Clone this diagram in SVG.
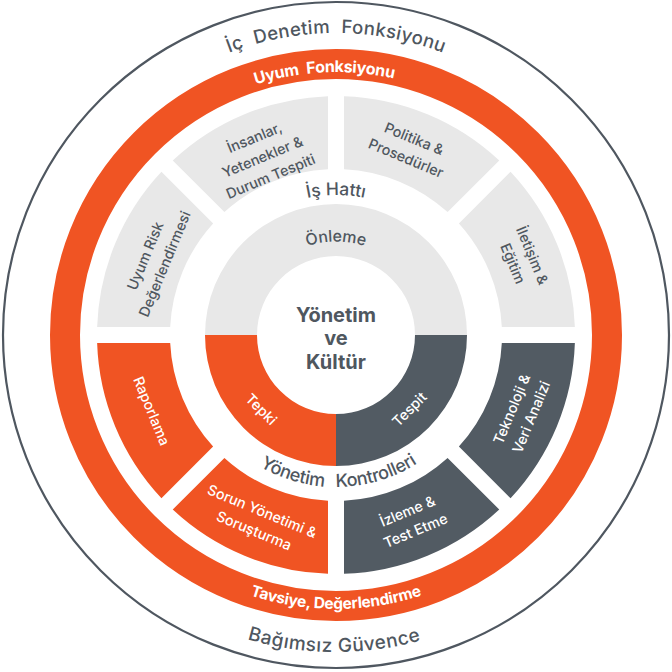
<svg xmlns="http://www.w3.org/2000/svg" xmlns:xlink="http://www.w3.org/1999/xlink" width="672" height="672" viewBox="0 0 672 672">
  <style>
    text { font-family: Inter, "Noto Sans", "Liberation Sans", sans-serif; }
    .g { fill: #e8e8e8; }
    .o { fill: #f05423; }
    .d { fill: #525b63; }
    .lbl { font-size: 14.3px; font-weight: 500; text-anchor: middle; }
    .tg { fill: #4f575f; }
    .tw { fill: #ffffff; }
    .arc { text-anchor: middle; }
  </style>
  <defs>
    <path id="pOuterTop" d="M34,335 A302,302 0 0 1 638,335"/>
    <path id="pOrangeTop" d="M73,335 A263,263 0 0 1 599,335"/>
    <path id="pMidTop" d="M196,335 A140,140 0 0 1 476,335"/>
    <path id="pInnerTop" d="M242.5,335 A93.5,93.5 0 0 1 429.5,335"/>
    <path id="pMidBot" d="M184,335 A152,152 0 0 0 488,335"/>
    <path id="pOrangeBot" d="M62,335 A274,274 0 0 0 610,335"/>
    <path id="pOuterBot" d="M19,335 A317,317 0 0 0 653,335"/>
  </defs>

  <rect width="672" height="672" fill="#ffffff"/>

  <g id="ic-denetim">
    <circle cx="336" cy="335" r="333" fill="none" stroke="#4f5760" stroke-width="2.2"/>
    <text class="arc tg" font-size="18.5" font-weight="500" word-spacing="6"><textPath xlink:href="#pOuterTop" href="#pOuterTop" startOffset="50%" textLength="219" lengthAdjust="spacing">İç Denetim Fonksiyonu</textPath></text>
    <text class="arc tg" font-size="19" font-weight="500"><textPath xlink:href="#pOuterBot" href="#pOuterBot" startOffset="49.8%" textLength="176" lengthAdjust="spacing">Bağımsız Güvence</textPath></text>
  </g>

  <g id="uyum-fonksiyonu">
    <circle cx="336" cy="335" r="271" fill="none" stroke="#f05423" stroke-width="30"/>
    <text class="arc tw" font-size="16" font-weight="700" word-spacing="4"><textPath xlink:href="#pOrangeTop" href="#pOrangeTop" startOffset="48.6%" textLength="140" lengthAdjust="spacing">Uyum Fonksiyonu</textPath></text>
    <text class="arc tw" font-size="15.5" font-weight="700"><textPath xlink:href="#pOrangeBot" href="#pOrangeBot" startOffset="50%" textLength="175" lengthAdjust="spacing">Tavsiye, Değerlendirme</textPath></text>
  </g>

  <g id="is-hatti">
    <text class="arc tg" font-size="17.5" font-weight="500"><textPath xlink:href="#pMidTop" href="#pMidTop" startOffset="50%">İş Hattı</textPath></text>
  </g>

  <g id="yonetim-kontrolleri">
    <text class="arc tg" font-size="18" font-weight="500" word-spacing="7"><textPath xlink:href="#pMidBot" href="#pMidBot" startOffset="50.6%" textLength="166" lengthAdjust="spacing">Yönetim Kontrolleri</textPath></text>
  </g>

  <g id="seg-iletisim">
    <path class="g" d="M574.87,327 A239,239 0 0 0 510.56,171.75 L458.90,223.41 A166,166 0 0 1 501.81,327 Z"/>
    <g transform="translate(522.5,259.5) rotate(67.5)">
      <text class="lbl tg" x="0" y="-5.5">İletişim &amp;</text>
      <text class="lbl tg" x="0" y="15.5">Eğitim</text>
    </g>
  </g>

  <g id="seg-politika">
    <path class="g" d="M499.25,160.44 A239,239 0 0 0 344,96.13 L344,169.19 A166,166 0 0 1 447.59,212.10 Z"/>
    <g transform="translate(410,148.5) rotate(22.5)">
      <text class="lbl tg" x="0" y="-5.5">Politika &amp;</text>
      <text class="lbl tg" x="0" y="15.5">Prosedürler</text>
    </g>
  </g>

  <g id="seg-insanlar">
    <path class="g" d="M328,96.13 A239,239 0 0 0 172.75,160.44 L224.41,212.10 A166,166 0 0 1 328,169.19 Z"/>
    <g transform="translate(262.5,157) rotate(-22.5)">
      <text class="lbl tg" x="0" y="-16">İnsanlar,</text>
      <text class="lbl tg" x="0" y="5">Yetenekler &amp;</text>
      <text class="lbl tg" x="0" y="26">Durum Tespiti</text>
    </g>
  </g>

  <g id="seg-uyum-risk">
    <path class="g" d="M161.44,171.75 A239,239 0 0 0 97.13,327 L170.19,327 A166,166 0 0 1 213.10,223.41 Z"/>
    <g transform="translate(155,260) rotate(-67.5)">
      <text class="lbl tg" x="0" y="-5.5">Uyum Risk</text>
      <text class="lbl tg" x="0" y="15.5">Değerlendirmesi</text>
    </g>
  </g>

  <g id="seg-raporlama">
    <path class="o" d="M97.13,343 A239,239 0 0 0 161.44,498.25 L213.10,446.59 A166,166 0 0 1 170.19,343 Z"/>
    <g transform="translate(151.5,411) rotate(67.5)">
      <text class="lbl tw" x="0" y="5">Raporlama</text>
    </g>
  </g>

  <g id="seg-sorun">
    <path class="o" d="M172.75,509.56 A239,239 0 0 0 328,573.87 L328,500.81 A166,166 0 0 1 224.41,457.90 Z"/>
    <g transform="translate(258,521) rotate(22.5)">
      <text class="lbl tw" x="0" y="-5.5">Sorun Yönetimi &amp;</text>
      <text class="lbl tw" x="0" y="15.5">Soruşturma</text>
    </g>
  </g>

  <g id="seg-izleme">
    <path class="d" d="M344,573.87 A239,239 0 0 0 499.25,509.56 L447.59,457.90 A166,166 0 0 1 344,500.81 Z"/>
    <g transform="translate(411.5,521) rotate(-22.5)">
      <text class="lbl tw" x="0" y="-5.5">İzleme &amp;</text>
      <text class="lbl tw" x="0" y="15.5">Test Etme</text>
    </g>
  </g>

  <g id="seg-teknoloji">
    <path class="d" d="M510.56,498.25 A239,239 0 0 0 574.87,343 L501.81,343 A166,166 0 0 1 458.90,446.59 Z"/>
    <g transform="translate(521.5,413) rotate(-67.5)">
      <text class="lbl tw" x="0" y="-5.5">Teknoloji &amp;</text>
      <text class="lbl tw" x="0" y="15.5">Veri Analizi</text>
    </g>
  </g>

  <g id="onleme">
    <path class="g" d="M205,335 A131,131 0 0 1 467,335 L415,335 A79,79 0 0 0 257,335 Z"/>
    <text class="arc tg" font-size="16" font-weight="500"><textPath xlink:href="#pInnerTop" href="#pInnerTop" startOffset="50%">Önleme</textPath></text>
  </g>

  <g id="tepki">
    <path class="o" d="M205,335 A131,131 0 0 0 336,466 L336,414 A79,79 0 0 1 257,335 Z"/>
    <g transform="translate(261.5,409) rotate(45)">
      <text class="lbl tw" x="0" y="5.5" font-size="16">Tepki</text>
    </g>
  </g>

  <g id="tespit">
    <path class="d" d="M336,466 A131,131 0 0 0 467,335 L415,335 A79,79 0 0 1 336,414 Z"/>
    <g transform="translate(409,409) rotate(-45)">
      <text class="lbl tw" x="0" y="5.5" font-size="16">Tespit</text>
    </g>
  </g>

  <g id="yonetim-ve-kultur">
    <text class="tg" x="336" y="321.5" font-size="20" font-weight="700" text-anchor="middle">Yönetim</text>
    <text class="tg" x="336" y="345" font-size="20" font-weight="700" text-anchor="middle">ve</text>
    <text class="tg" x="336" y="368.5" font-size="20" font-weight="700" text-anchor="middle">Kültür</text>
  </g>

  <g id="connectors"></g>
</svg>
